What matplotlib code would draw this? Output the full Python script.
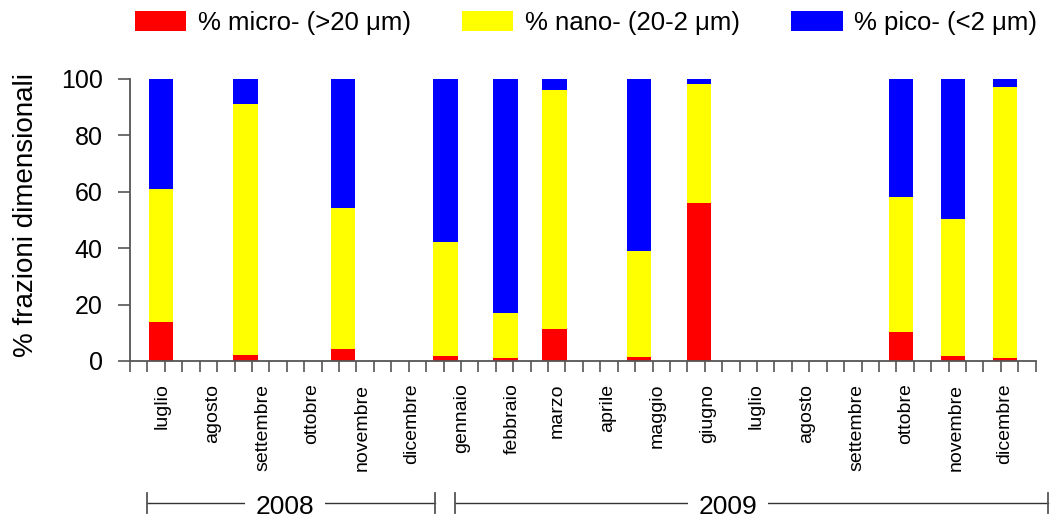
import matplotlib
matplotlib.use("Agg")
import matplotlib.pyplot as plt
import matplotlib.dates as mdates
import matplotlib.transforms as mtransforms
from matplotlib.patches import Patch
from matplotlib.lines import Line2D
import numpy as np
from datetime import date

plt.rcParams['font.family'] = ['Liberation Sans', 'DejaVu Sans']

# Sampling dates and size fractions (%)
sample_dates = ["2008-07-13", "2008-09-03", "2008-11-02", "2009-01-04", "2009-02-10",
                "2009-03-12", "2009-05-03", "2009-06-09", "2009-10-11", "2009-11-12",
                "2009-12-14"]
micro = [13.8, 2.1, 4.3, 1.8, 1.1, 11.3, 1.4, 56.0, 10.3, 1.8, 1.1]
nano = [47.2, 89.1, 50.1, 40.4, 15.9, 84.8, 37.6, 42.2, 47.9, 48.6, 96.1]
pico = [39.0, 8.8, 45.6, 57.8, 83.0, 3.9, 61.0, 1.8, 41.8, 49.6, 2.8]

month_names = ["luglio", "agosto", "settembre", "ottobre", "novembre", "dicembre",
               "gennaio", "febbraio", "marzo", "aprile", "maggio", "giugno",
               "luglio", "agosto", "settembre", "ottobre", "novembre", "dicembre"]
years = ["2008", "2009"]

colors = ["#FF0000", "#FFFF00", "#0000FF"]
labels = ["% micro- (>20 \u03bcm)", "% nano- (20-2 \u03bcm)", "% pico- (<2 \u03bcm)"]

x = mdates.datestr2num(sample_dates)
micro = np.array(micro)
nano = np.array(nano)
pico = np.array(pico)

W, H = 1051, 520
fig = plt.figure(figsize=(W / 100, H / 100), dpi=100)
ax = fig.add_axes([130 / W, 1 - 361 / H, (1035.7 - 130) / W, (361 - 79) / H])

width = 15
ax.bar(x, micro, width=width, color=colors[0], linewidth=0)
ax.bar(x, nano, width=width, bottom=micro, color=colors[1], linewidth=0)
ax.bar(x, pico, width=width, bottom=micro + nano, color=colors[2], linewidth=0)

x0 = mdates.date2num(date(2008, 6, 24))
x1 = mdates.date2num(date(2010, 1, 2))
ax.set_xlim(x0, x1)
ax.set_ylim(0, 100)

for s in ["top", "right"]:
    ax.spines[s].set_visible(False)
for s in ["left", "bottom"]:
    ax.spines[s].set_color("#555555")
    ax.spines[s].set_linewidth(1.3)

ax.set_yticks([0, 20, 40, 60, 80, 100])
ax.tick_params(axis="y", direction="out", length=8.6, width=1.2, color="#555555",
               labelsize=18, pad=11)
ax.set_xticks(np.linspace(x0, x1, 53))
ax.set_xticklabels([])
ax.tick_params(axis="x", direction="out", length=8, width=1.2, color="#555555")
ax.set_ylabel("% frazioni dimensionali", fontsize=20)
ax.yaxis.set_label_coords(-0.1005, 0.518)

# month labels, one per calendar month
trans = mtransforms.blended_transform_factory(ax.transData, ax.transAxes)
for i, name in enumerate(month_names):
    yr = 2008 + (6 + i) // 12
    mo = (6 + i) % 12 + 1
    mx = mdates.date2num(date(yr, mo, 14))
    ax.text(mx, -0.08, name, transform=trans, rotation=90, ha="center", va="top",
            fontsize=14)

# year brackets below the month labels
yb = 1 - 503 / H
tick_h = 10 / H
spans = [(147, 435, 285), (455, 1048, 728)]
for yr_label, (a, b, c) in zip(years, spans):
    fa, fb = a / W, b / W
    fig.add_artist(Line2D([fa, fb], [yb, yb], transform=fig.transFigure,
                          color="#333333", lw=1))
    for e in (fa, fb):
        fig.add_artist(Line2D([e, e], [yb - tick_h, yb + tick_h],
                              transform=fig.transFigure, color="#555555", lw=1.3))
    fig.text(c / W, 1 - 507 / H, yr_label, ha="center", va="center", fontsize=19,
             bbox=dict(facecolor="white", edgecolor="none", pad=8))

handles = [Patch(facecolor=c, edgecolor="none") for c in colors]
fig.legend(handles, labels, loc="center", bbox_to_anchor=(0.5576, 1 - 23 / H), ncol=3,
           frameon=False, fontsize=18.5, handlelength=2.0, handleheight=0.8,
           handletextpad=0.45, columnspacing=2.0, borderpad=0, borderaxespad=0)

fig.savefig("out.png", dpi=100)
